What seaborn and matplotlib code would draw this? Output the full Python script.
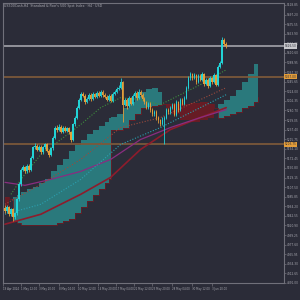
import numpy as np
import pandas as pd
import matplotlib
matplotlib.use("Agg")
import matplotlib.pyplot as plt
import seaborn as sns

# ---------------- data ----------------
first_open = 5060
closes = [5053, 5062, 5046, 5057, 5039, 5048, 5080, 5114, 5147, 5152,
          5143, 5156, 5147, 5174, 5197, 5201, 5192, 5199, 5186, 5197,
          5204, 5190, 5181, 5195, 5219, 5242, 5237, 5244, 5233, 5242,
          5235, 5240, 5231, 5215, 5249, 5264, 5287, 5305, 5318, 5314,
          5300, 5307, 5316, 5307, 5318, 5312, 5321, 5314, 5323, 5316,
          5312, 5305, 5314, 5303, 5318, 5323, 5330, 5332, 5345, 5294,
          5305, 5291, 5309, 5296, 5314, 5321, 5309, 5323, 5316, 5307,
          5300, 5287, 5296, 5282, 5273, 5278, 5264, 5258, 5251, 5260,
          5264, 5282, 5276, 5287, 5294, 5271, 5300, 5282, 5305, 5296,
          5309, 5332, 5354, 5363, 5354, 5361, 5345, 5359, 5350, 5363,
          5341, 5350, 5336, 5354, 5345, 5361, 5339, 5379, 5388, 5440,
          5431, 5426]
highs = [5066, 5067, 5065, 5061, 5060, 5052, 5084, 5118, 5151, 5157,
         5155, 5160, 5159, 5178, 5201, 5206, 5204, 5203, 5202, 5200,
         5208, 5207, 5193, 5198, 5223, 5246, 5247, 5249, 5247, 5246,
         5245, 5244, 5243, 5234, 5253, 5268, 5291, 5309, 5323, 5322,
         5317, 5311, 5320, 5319, 5322, 5321, 5325, 5324, 5327, 5326,
         5320, 5315, 5318, 5317, 5322, 5327, 5334, 5337, 5355, 5348,
         5309, 5308, 5313, 5312, 5318, 5325, 5324, 5329, 5326, 5319,
         5311, 5303, 5300, 5299, 5286, 5282, 5281, 5268, 5262, 5265,
         5269, 5286, 5286, 5291, 5298, 5297, 5304, 5303, 5309, 5308,
         5313, 5336, 5358, 5368, 5366, 5365, 5364, 5363, 5362, 5367,
         5366, 5354, 5353, 5358, 5357, 5365, 5364, 5383, 5392, 5447,
         5444, 5435]
lows = [5049, 5048, 5042, 5043, 5032, 5036, 5045, 5077, 5111, 5143,
        5139, 5140, 5142, 5144, 5171, 5193, 5188, 5189, 5182, 5183,
        5194, 5186, 5176, 5178, 5192, 5216, 5233, 5234, 5229, 5230,
        5231, 5232, 5227, 5210, 5212, 5246, 5261, 5284, 5302, 5310,
        5296, 5297, 5304, 5303, 5304, 5308, 5309, 5310, 5311, 5312,
        5308, 5301, 5302, 5299, 5300, 5315, 5320, 5326, 5329, 5255,
        5290, 5284, 5288, 5292, 5293, 5311, 5305, 5306, 5312, 5303,
        5296, 5283, 5284, 5278, 5269, 5268, 5260, 5252, 5245, 5247,
        5204, 5261, 5272, 5273, 5284, 5267, 5268, 5278, 5279, 5292,
        5293, 5306, 5329, 5350, 5350, 5351, 5341, 5342, 5346, 5347,
        5336, 5338, 5332, 5333, 5341, 5342, 5335, 5336, 5376, 5385,
        5427, 5422]

# Ichimoku cloud (bar index, span A, span B)
cloud_idx = [0, 2, 4, 6, 8, 11, 14, 17, 20, 23, 26, 29, 32, 35, 38, 41, 44,
             47, 50, 52, 53, 56, 59, 62, 65, 68, 71, 74, 77, 79, 81, 84, 88,
             93, 98, 102, 105, 107, 110, 113, 116, 119, 122, 125, 127]
span_a = [5057.5, 5068.75, 5084.5, 5089, 5095.75, 5102.5, 5107, 5116, 5125,
          5143, 5156.5, 5170, 5188, 5201.5, 5215, 5228.5, 5237.5, 5246.5,
          5255.5, 5264.5, 5266.75, 5273.5, 5287, 5300.5, 5314, 5323, 5329.75,
          5332, 5323, 5305, 5287, 5273.5, 5260, 5255.5, 5260, 5264.5, 5282.5,
          5296, 5305, 5314, 5327.5, 5345.5, 5363.5, 5386, 5399.5]
span_b = [5084.5, 5080, 5030.5, 5026, 5021.5, 5021.5, 5021.5, 5021.5, 5021.5,
          5021.5, 5026, 5030.5, 5035, 5048.5, 5062, 5075.5, 5089, 5102.5,
          5116, 5125, 5237.5, 5237.5, 5242, 5260, 5273.5, 5287, 5289.25,
          5291.5, 5293.75, 5296, 5296, 5296, 5296, 5298.25, 5300.5, 5296,
          5287, 5264.5, 5269, 5273.5, 5278, 5287, 5291.5, 5300.5, 5311.75]

# moving averages
green_idx = [3, 8, 18, 28, 38, 48, 58, 68, 78, 88, 98, 111]
green_val = [5091.25, 5125, 5181.25, 5215, 5248.75, 5287, 5309.5, 5305,
             5293.75, 5316.25, 5338.75, 5372.5]
brown_idx = [0, 18, 38, 58, 78, 98, 111]
brown_val = [5068.75, 5113.75, 5170, 5242, 5264.5, 5305, 5332]
cyan_idx = [0, 18, 38, 58, 78, 98, 111]
cyan_val = [5046.25, 5068.75, 5125, 5203.75, 5242, 5287, 5316.25]
purple_idx = [0, 10, 23, 38, 53, 68, 83, 98, 111]
purple_val = [5118.25, 5111.5, 5125, 5143, 5170, 5215, 5242, 5264.5, 5282.5]
red_idx = [0, 18, 38, 53, 68, 83, 98, 111]
red_val = [5023.75, 5046.25, 5091.25, 5129.5, 5192.5, 5237.5, 5264.5, 5287]

hline_gray = 5426.50
hline_levels = [5357.00, 5203.75]

ytick_vals = [4891.00, 4912.65, 4934.30, 4955.95, 4977.60, 4999.25, 5020.90,
              5042.55, 5064.20, 5085.85, 5107.50, 5129.15, 5150.80, 5172.45,
              5194.10, 5215.75, 5237.40, 5259.05, 5280.70, 5302.35, 5324.00,
              5345.65, 5367.30, 5388.95, 5410.60, 5432.25, 5453.90, 5475.55,
              5497.20, 5518.85]
xtick_idx = [-1, 8, 17, 27, 36.5, 46.5, 55.5, 64.5, 74, 84, 94, 104]
xtick_labels = ["19 Apr 2024", "1 May 12:00", "3 May 20:00", "8 May 04:00",
                "10 May 12:00", "14 May 20:00", "17 May 04:00", "21 May 12:00",
                "23 May 20:00", "28 May 04:00", "30 May 12:00", "3 Jun 20:00"]
title_text = "US500Cash,H4  Standard & Poor's 500 Spot Index · H4 · USD"

# ---------------- style ----------------
BG = "#2b2c38"
FG = "#a8a8b0"
SPINE = "#70707a"
BULL = "#22d3d6"
BEAR = "#e39d3a"

sns.set_theme(style="dark")
plt.rcParams["font.family"] = ["DejaVu Sans"]

fig = plt.figure(figsize=(3, 3), dpi=100, facecolor=BG)
ax = fig.add_axes([3 / 300, 17 / 300, 281 / 300, 280 / 300], facecolor=BG)

df = pd.DataFrame({"close": closes, "high": highs, "low": lows})
df["open"] = [first_open] + closes[:-1]
df["i"] = np.arange(len(df))

# cloud
cl = pd.DataFrame({"i": cloud_idx, "a": span_a, "b": span_b})
ax.fill_between(cl["i"], cl["a"], cl["b"], where=cl["a"] >= cl["b"], step="post",
                color="#2a8284", alpha=0.9, lw=0, zorder=1)
ax.fill_between(cl["i"], cl["a"], cl["b"], where=cl["a"] < cl["b"], step="post",
                color="#6a1c24", alpha=0.95, lw=0, zorder=1)
ax.step(cl["i"], cl["b"], where="post", color="#6a1c24", lw=0.6, zorder=1.2)

# horizontal levels
ax.axhline(hline_gray, color="#9a9aa2", lw=1.3, zorder=1.5)
for lv in hline_levels:
    ax.axhline(lv, color="#7a583a", lw=1.3, zorder=1.5)

# moving averages
sns.lineplot(x=red_idx, y=red_val, ax=ax, color="#8e1c2c", lw=1.2, zorder=2)
sns.lineplot(x=purple_idx, y=purple_val, ax=ax, color="#8a2c80", lw=0.9, zorder=2)
sns.lineplot(x=cyan_idx, y=cyan_val, ax=ax, color="#2aa0b0", lw=0.8,
             linestyle=(0, (1, 1.5)), zorder=2)
sns.lineplot(x=brown_idx, y=brown_val, ax=ax, color="#9a4a3c", lw=0.8,
             linestyle=(0, (1, 1.5)), zorder=2)
sns.lineplot(x=green_idx, y=green_val, ax=ax, color="#3e8e3e", lw=0.8,
             linestyle=(0, (1, 1.5)), zorder=2)

# candles
cols = [BULL if c >= o else BEAR for o, c in zip(df["open"], df["close"])]
ax.vlines(df["i"], df["low"], df["high"], colors=cols, lw=0.6, zorder=3)
bottoms = np.minimum(df["open"], df["close"])
heights = np.maximum(np.abs(df["close"] - df["open"]), 1.2)
ax.bar(df["i"], heights, bottom=bottoms, width=0.8, color=cols, lw=0, zorder=3)

# axes
ax.set_xlim(-0.5, 140)
ax.set_ylim(4893.25, 5523.25)
ax.yaxis.tick_right()
ax.set_yticks(ytick_vals)
ax.set_yticklabels([f"{v:.2f}" for v in ytick_vals])
ax.set_xticks(xtick_idx)
ax.set_xticklabels(xtick_labels, ha="left")
ax.tick_params(axis="y", colors=SPINE, labelcolor=FG, labelsize=2.1, length=1.5,
               width=0.5, pad=0.8, right=True, left=False)
ax.tick_params(axis="x", colors=SPINE, labelcolor=FG, labelsize=1.9, length=2,
               width=0.5, pad=1, bottom=True)
for s in ax.spines.values():
    s.set_color(SPINE)
    s.set_linewidth(0.8)
ax.grid(False)
ax.set_xlabel("")
ax.set_ylabel("")

# price tags on the right
def tag(v, fc, tc):
    ax.text(1.003, v, f"{v:.2f}", transform=ax.get_yaxis_transform(),
            fontsize=2.1, color=tc, va="center", ha="left",
            bbox=dict(boxstyle="square,pad=0.25", fc=fc, ec="none"), zorder=6,
            clip_on=False)

tag(hline_gray, "#c8c8cc", "#2b2c38")
for lv in hline_levels:
    tag(lv, "#e39d3a", "#2b2c38")

ax.text(0.005, 0.996, title_text, transform=ax.transAxes, fontsize=2.3,
        color=FG, va="top", ha="left")

fig.savefig("out.png", dpi=100, facecolor=BG)
